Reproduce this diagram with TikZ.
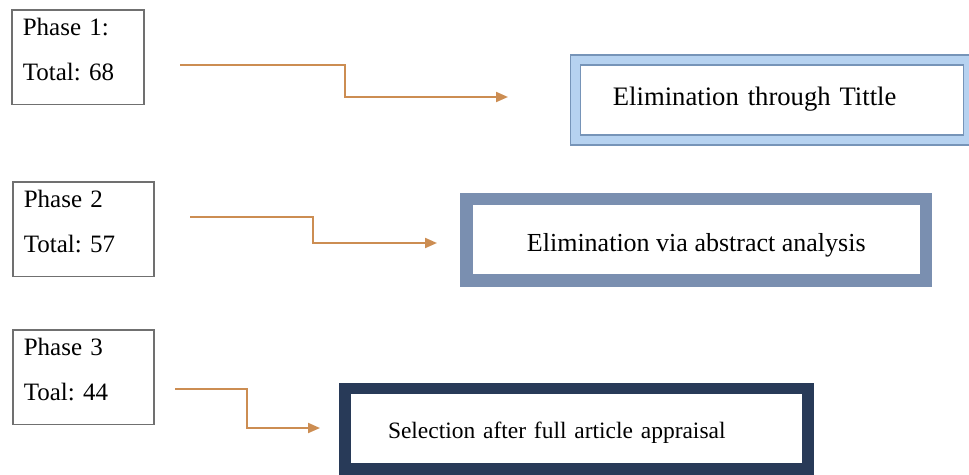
\documentclass[tikz,border=0pt]{standalone}
\usepackage{fontspec}
\setmainfont{Liberation Serif}
\usetikzlibrary{arrows.meta}
\frenchspacing

\definecolor{phasegray}{RGB}{112,112,112}
\definecolor{flowtan}{RGB}{204,141,82}
\definecolor{lineblue}{RGB}{118,148,184}
\definecolor{paleblue}{RGB}{182,210,240}
\definecolor{steelblue}{RGB}{122,143,176}
\definecolor{navyblue}{RGB}{40,58,88}

\begin{document}
\begin{tikzpicture}[x=0.75pt, y=-0.75pt,
	phase/.style={draw=phasegray, line width=1.2pt, anchor=north west, align=left,
		inner xsep=8.25pt, inner ysep=0pt, text height=19pt, text depth=52pt,
		font=\fontsize{18.75}{33.75}\selectfont},
	flow/.style={draw=flowtan, line width=1.5pt, -{Triangle[length=9pt,width=7.5pt]}},
	stage/.style={inner ysep=0pt, text depth=4.5pt}]
	\useasboundingbox (0, 0) rectangle (969, 474);

	% phases
	\node[phase, text width=82.5pt] (phase1) at (11, 9) {Phase 1:\\Total: 68};
	\node[phase, text width=89.25pt] (phase2) at (12, 181) {Phase 2\\Total: 57};
	\node[phase, text width=89.25pt] (phase3) at (12, 329) {Phase 3\\Toal: 44};

	% stages
	\node[stage, draw=lineblue, line width=1.1pt, double=paleblue, double distance=6.4pt,
		align=left, inner xsep=28.1pt, text width=238.75pt, minimum height=60pt,
		text height=13.5pt, font=\fontsize{20}{24}\selectfont]
		(title) at (772.1, 100) {Elimination through Tittle};
	\node[stage, draw=steelblue, line width=9.4pt, minimum width=344.6pt, minimum height=61.1pt,
		text height=22.5pt, font=\fontsize{19.5}{24}\selectfont]
		(abstract) at (696.25, 239.75) {Elimination via abstract analysis};
	\node[stage, draw=navyblue, line width=8.6pt, align=left, inner xsep=32.25pt,
		text width=282.75pt, minimum height=60.4pt,
		text height=19.1pt, font=\fontsize{17.6}{22}\selectfont]
		(fulltext) at (576.5, 428.8) {Selection after full article appraisal};

	% connectors
	\coordinate (from1) at (180, 65);
	\coordinate (to1) at (508, 97);
	\coordinate (from2) at (190, 217);
	\coordinate (to2) at (437, 243);
	\coordinate (from3) at (175, 389);
	\coordinate (to3) at (320, 428);
	\draw[flow] (from1) -- ++(165, 0) |- (to1);
	\draw[flow] (from2) -- ++(123, 0) |- (to2);
	\draw[flow] (from3) -- ++(72, 0) |- (to3);
\end{tikzpicture}
\end{document}
